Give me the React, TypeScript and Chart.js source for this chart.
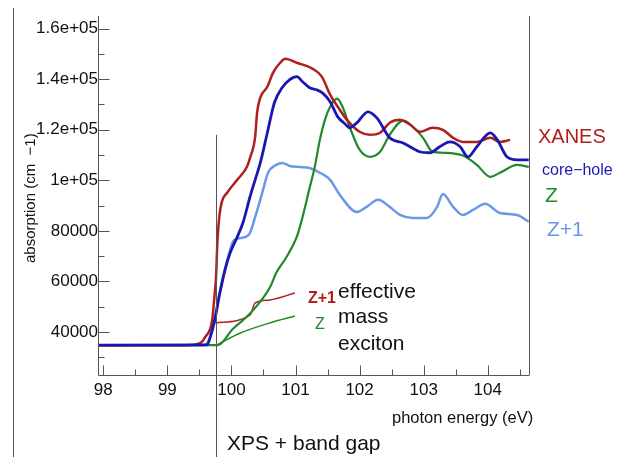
import React, { useEffect, useRef } from "react";
import { Chart, registerables } from "chart.js";

Chart.register(...registerables);

const X_MIN = 97.933;
const X_MAX = 104.644;
const Y_MIN = 22600;
const Y_MAX = 165000;

const X_TICKS = [98, 99, 100, 101, 102, 103, 104];
const X_MINOR = [98.5, 99.5, 100.5, 101.5, 102.5, 103.5, 104.5];
const Y_TICKS = [40000, 60000, 80000, 100000, 120000, 140000, 160000];
const Y_TICK_LABELS = ["40000", "60000", "80000", "1e+05", "1.2e+05", "1.4e+05", "1.6e+05"];
const Y_MINOR = [30000, 50000, 70000, 90000, 110000, 130000, 150000];

const XPS_GAP_E = 99.77;
const XPS_GAP_TOP = 118000;

// XANES (experiment)
const XANES_E = [97.93, 99.3, 99.51, 99.59, 99.7, 99.73, 99.76, 99.78, 99.81, 99.85, 99.93, 100.09, 100.24, 100.29, 100.37, 100.4, 100.45, 100.56, 100.65, 100.76, 100.84, 101.02, 101.27, 101.41, 101.54, 101.66, 101.8, 102.0, 102.16, 102.32, 102.47, 102.63, 102.79, 102.94, 103.14, 103.3, 103.46, 103.61, 103.83, 104.04, 104.19, 104.35];
const XANES_V = [34800, 34800, 35600, 38000, 44800, 52700, 61800, 75200, 85500, 91500, 95000, 100200, 105300, 108900, 117200, 126700, 132700, 137000, 142600, 146500, 148100, 146500, 144100, 141000, 133900, 129100, 124000, 119200, 118000, 118800, 122800, 124000, 122000, 119200, 120800, 120000, 116800, 115200, 115200, 116800, 115200, 116000];

// core-hole
const CORE_E = [97.93, 99.62, 99.67, 99.74, 99.82, 99.9, 99.98, 100.09, 100.18, 100.29, 100.37, 100.45, 100.56, 100.67, 100.79, 100.91, 101.02, 101.11, 101.22, 101.33, 101.42, 101.54, 101.66, 101.77, 101.85, 101.96, 102.13, 102.27, 102.47, 102.68, 102.94, 103.1, 103.25, 103.41, 103.57, 103.69, 103.83, 104.04, 104.15, 104.3, 104.46, 104.64];
const CORE_V = [34800, 34900, 38000, 44800, 55500, 64600, 71300, 77600, 83200, 93500, 100200, 106900, 118800, 130700, 136600, 139800, 141000, 139000, 136600, 135800, 134600, 131100, 125100, 122400, 120800, 122800, 127100, 124700, 116800, 114800, 111300, 110900, 113300, 115200, 113300, 109300, 113300, 118800, 116000, 109300, 108100, 108100];

// Z
const Z_E = [97.93, 99.79, 100.02, 100.29, 100.6, 100.7, 100.86, 101.02, 101.11, 101.22, 101.3, 101.38, 101.46, 101.54, 101.65, 101.74, 101.85, 102.0, 102.16, 102.32, 102.47, 102.68, 102.83, 102.99, 103.14, 103.3, 103.62, 103.83, 104.04, 104.19, 104.46, 104.64];
const Z_V = [34800, 34800, 41200, 47300, 57600, 63400, 69700, 77600, 85500, 97000, 105300, 116000, 124000, 129100, 132300, 128700, 120800, 112100, 109300, 111300, 118000, 123600, 121200, 116800, 111300, 110900, 109700, 106100, 101400, 103000, 106100, 105300];

// Z+1
const ZP1_E = [97.93, 99.55, 99.62, 99.67, 99.74, 99.82, 99.9, 99.98, 100.03, 100.14, 100.27, 100.37, 100.48, 100.57, 100.7, 100.79, 100.91, 101.07, 101.22, 101.38, 101.54, 101.69, 101.96, 102.11, 102.29, 102.47, 102.63, 102.83, 103.05, 103.21, 103.3, 103.46, 103.61, 103.77, 103.96, 104.19, 104.46, 104.64];
const ZP1_V = [34800, 34800, 35500, 38500, 45500, 56000, 65000, 72500, 76000, 77200, 78400, 85500, 95000, 102900, 106100, 106900, 105700, 105300, 104900, 103000, 100200, 94300, 87500, 89500, 92300, 89500, 86300, 85100, 85100, 89500, 94600, 89500, 86300, 88300, 90700, 87100, 86300, 83600];

// effective mass exciton
const EM_ZP1_E = [99.75, 100.29, 100.37, 100.6, 100.99];
const EM_ZP1_V = [43600, 46700, 51500, 52700, 55400];
const EM_Z_E = [99.79, 100.14, 100.6, 100.99];
const EM_Z_V = [35200, 39600, 43600, 46300];

const RED = "#b01e1e";
const BLUE = "#1a18b0";
const GREEN = "#22882a";
const LIGHT = "#6b98e6";
const FONT = "'Liberation Sans', Arial, Helvetica, sans-serif";

const pts = (xs: number[], ys: number[]) => xs.map((x, i) => ({ x, y: ys[i] }));

const decor = {
  id: "decor",
  afterDatasetsDraw(chart: any) {
    const { ctx, chartArea, scales } = chart;
    const { left, right, top, bottom } = chartArea;
    const xs = scales.x;
    const ys = scales.y;
    ctx.save();
    ctx.lineWidth = 1;
    ctx.strokeStyle = "#555";
    const L = Math.round(left) - 0.5;
    const B = Math.round(bottom) - 0.5;
    const R = Math.round(right) + 0.5;
    ctx.beginPath();
    ctx.moveTo(L, top);
    ctx.lineTo(L, B);
    ctx.lineTo(right, B);
    ctx.moveTo(R, top);
    ctx.lineTo(R, B);
    // frame line at left
    ctx.moveTo(13.5, 8);
    ctx.lineTo(13.5, chart.height);
    ctx.stroke();

    // ticks (inward)
    ctx.beginPath();
    for (const v of X_TICKS) {
      const px = Math.round(xs.getPixelForValue(v)) + 0.5;
      ctx.moveTo(px, B);
      ctx.lineTo(px, B - 10);
    }
    for (const v of X_MINOR) {
      const px = Math.round(xs.getPixelForValue(v)) + 0.5;
      ctx.moveTo(px, B);
      ctx.lineTo(px, B - 6);
    }
    for (const v of Y_TICKS) {
      const py = Math.round(ys.getPixelForValue(v)) + 0.5;
      ctx.moveTo(L, py);
      ctx.lineTo(L + 11, py);
    }
    for (const v of Y_MINOR) {
      const py = Math.round(ys.getPixelForValue(v)) + 0.5;
      ctx.moveTo(L, py);
      ctx.lineTo(L + 6, py);
    }
    ctx.stroke();

    // XPS + band gap line
    const gx = Math.round(xs.getPixelForValue(XPS_GAP_E)) - 0.5;
    ctx.beginPath();
    ctx.moveTo(gx, ys.getPixelForValue(XPS_GAP_TOP));
    ctx.lineTo(gx, chart.height);
    ctx.stroke();

    // texts
    ctx.textBaseline = "alphabetic";
    ctx.textAlign = "left";
    const txt = (s: string, x: number, y: number, size: number, color: string, weight = "normal") => {
      ctx.font = `${weight} ${size}px ${FONT}`;
      ctx.fillStyle = color;
      ctx.fillText(s, x, y);
    };
    txt("XANES", 538, 143, 20, RED);
    txt("core\u2212hole", 542, 175, 16, BLUE);
    txt("Z", 545, 202, 21, GREEN);
    txt("Z+1", 547, 236, 21, LIGHT);
    txt("Z+1", 308, 303, 16, RED, "bold");
    txt("Z", 315, 329, 16, GREEN);
    txt("effective", 338, 298, 21, "#111");
    txt("mass", 338, 323, 21, "#111");
    txt("exciton", 338, 350, 21, "#111");
    txt("photon energy (eV)", 392, 423, 16.5, "#111");
    txt("XPS + band gap", 227, 450, 21, "#111");

    ctx.save();
    ctx.translate(35, 263);
    ctx.rotate(-Math.PI / 2);
    txt("absorption (cm  \u22121)", 0, 0, 15, "#111");
    ctx.restore();

    ctx.restore();
  },
};

export default function App() {
  const ref = useRef<HTMLCanvasElement | null>(null);
  useEffect(() => {
    if (!ref.current) return;
    const line = (data: any, color: string, width: number) => ({
      data,
      borderColor: color,
      backgroundColor: color,
      borderWidth: width,
      pointRadius: 0,
      fill: false,
      cubicInterpolationMode: "monotone" as const,
    });
    const chart = new Chart(ref.current, {
      type: "line",
      data: {
        datasets: [
          line(pts(CORE_E, CORE_V), BLUE, 2.8),
          line(pts(XANES_E, XANES_V), RED, 2.5),
          line(pts(Z_E, Z_V), GREEN, 2.2),
          line(pts(ZP1_E, ZP1_V), LIGHT, 2.5),
          line(pts(EM_ZP1_E, EM_ZP1_V), RED, 1.5),
          line(pts(EM_Z_E, EM_Z_V), GREEN, 1.5),
        ],
      },
      options: {
        responsive: false,
        animation: false,
        devicePixelRatio: 1,
        layout: { padding: { left: 0, top: 16, right: 97, bottom: 0 } },
        plugins: { legend: { display: false }, tooltip: { enabled: false } },
        scales: {
          x: {
            type: "linear",
            min: X_MIN,
            max: X_MAX,
            grid: { display: false, drawTicks: false },
            border: { display: false },
            afterBuildTicks: (s: any) => {
              s.ticks = X_TICKS.map((v) => ({ value: v }));
            },
            afterFit: (s: any) => {
              s.height = 81;
            },
            ticks: {
              autoSkip: false,
              maxRotation: 0,
              padding: 4,
              color: "#111",
              font: { family: FONT, size: 17 },
              callback: (v: any) => String(v),
            },
          },
          y: {
            type: "linear",
            min: Y_MIN,
            max: Y_MAX,
            grid: { display: false, drawTicks: false },
            border: { display: false },
            afterBuildTicks: (s: any) => {
              s.ticks = Y_TICKS.map((v) => ({ value: v }));
            },
            afterFit: (s: any) => {
              s.width = 99;
            },
            ticks: {
              autoSkip: false,
              padding: 1,
              color: "#111",
              font: { family: FONT, size: 17 },
              callback: (v: any) => {
                const i = Y_TICKS.indexOf(Number(v));
                return i >= 0 ? Y_TICK_LABELS[i] : "";
              },
            },
          },
        },
      },
      plugins: [decor],
    });
    return () => chart.destroy();
  }, []);
  return (
    <div style={{ position: "absolute", left: 0, top: 0, width: 626, height: 457, background: "#fff" }}>
      <canvas ref={ref} width={626} height={457} style={{ display: "block" }} />
    </div>
  );
}
